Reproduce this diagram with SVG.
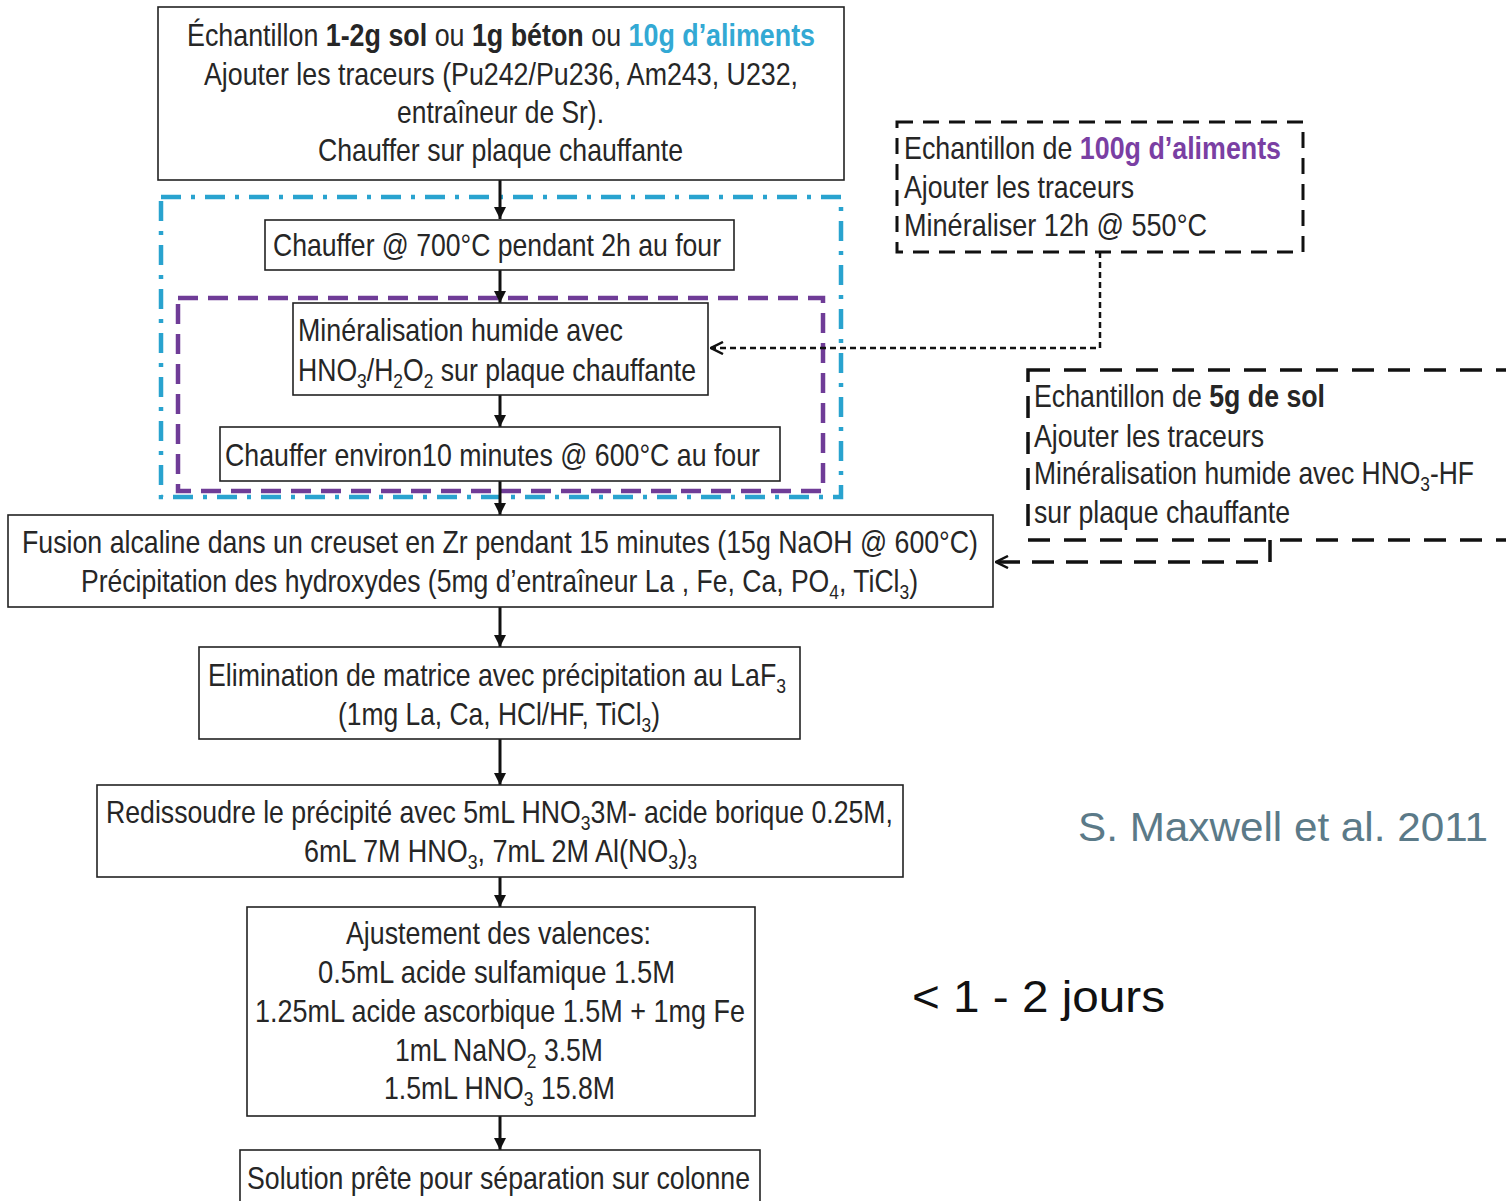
<svg xmlns="http://www.w3.org/2000/svg" width="1506" height="1201" viewBox="0 0 1506 1201">
  <style>
    .box { fill: #ffffff; stroke: #222222; stroke-width: 1.6; }
    .t { font-family: "Liberation Sans", Arial, sans-serif; font-size: 32px; fill: #262626; }
    .sub { font-size: 21px; baseline-shift: -7px; }
    .b { font-weight: bold; }
    .blue { fill: #33a9d4; font-weight: bold; }
    .purple { fill: #7a3fa3; font-weight: bold; }
    .flow { stroke: #111111; stroke-width: 3; fill: none; }
    .feed1 { stroke: #111111; stroke-width: 2.5; fill: none; stroke-dasharray: 6 4; }
    .feed2 { stroke: #111111; stroke-width: 3.5; fill: none; stroke-dasharray: 22 12; }
    .frame1 { fill: none; stroke: #111111; stroke-width: 3; stroke-dasharray: 16 10; }
    .frame2 { fill: none; stroke: #111111; stroke-width: 3.5; stroke-dasharray: 22 14; }
    .grpBlue { fill: none; stroke: #29a3cf; stroke-width: 4.5; stroke-dasharray: 20 10 4 10; }
    .grpPurple { fill: none; stroke: #6f3c97; stroke-width: 4.5; stroke-dasharray: 20 10; }
  </style>
  <defs>
    <marker id="solid" viewBox="0 0 12 12" refX="12" refY="6" markerWidth="12" markerHeight="12" markerUnits="userSpaceOnUse" orient="auto">
      <path d="M0,0 L12,6 L0,12 z" fill="#111111"/>
    </marker>
    <marker id="chev" viewBox="0 0 14 14" refX="13" refY="7" markerWidth="14" markerHeight="14" markerUnits="userSpaceOnUse" orient="auto">
      <path d="M1,1 L13,7 L1,13" fill="none" stroke="#111111" stroke-width="2.5"/>
    </marker>
  </defs>

  <rect width="1506" height="1201" fill="#ffffff"/>

  <!-- grouping frames -->
  <rect class="grpBlue" x="161" y="197" width="680" height="300"/>
  <rect class="grpPurple" x="178" y="298" width="645" height="193"/>

  <!-- connectors -->
  <g id="connectors">
    <line class="flow" x1="500" y1="180" x2="500" y2="219" marker-end="url(#solid)"/>
    <line class="flow" x1="500" y1="270" x2="500" y2="303" marker-end="url(#solid)"/>
    <line class="flow" x1="500" y1="395" x2="500" y2="427" marker-end="url(#solid)"/>
    <line class="flow" x1="500" y1="481" x2="500" y2="515" marker-end="url(#solid)"/>
    <line class="flow" x1="500" y1="607" x2="500" y2="647" marker-end="url(#solid)"/>
    <line class="flow" x1="500" y1="739" x2="500" y2="785" marker-end="url(#solid)"/>
    <line class="flow" x1="500" y1="877" x2="500" y2="907" marker-end="url(#solid)"/>
    <line class="flow" x1="500" y1="1116" x2="500" y2="1150" marker-end="url(#solid)"/>
    <path class="feed1" d="M1100,252 V348 H711" marker-end="url(#chev)"/>
    <path class="feed2" d="M1270,540 V562 H996" marker-end="url(#chev)"/>
  </g>

  <!-- sample preparation -->
  <g id="echantillon">
    <rect class="box" x="158" y="7" width="686" height="173"/>
    <text class="t" x="187" y="46" textLength="628" lengthAdjust="spacingAndGlyphs">Échantillon <tspan class="b">1-2g sol</tspan> ou <tspan class="b">1g béton</tspan> ou <tspan class="blue">10g d’aliments</tspan></text>
    <text class="t" x="204" y="85" textLength="594" lengthAdjust="spacingAndGlyphs">Ajouter les traceurs (Pu242/Pu236, Am243, U232,</text>
    <text class="t" x="397" y="123" textLength="207" lengthAdjust="spacingAndGlyphs">entraîneur de Sr).</text>
    <text class="t" x="318" y="161" textLength="365" lengthAdjust="spacingAndGlyphs">Chauffer sur plaque chauffante</text>
  </g>

  <g id="four700">
    <rect class="box" x="265" y="220" width="469" height="50"/>
    <text class="t" x="273" y="256" textLength="448" lengthAdjust="spacingAndGlyphs">Chauffer @ 700°C pendant 2h au four</text>
  </g>

  <g id="mineralisation">
    <rect class="box" x="293" y="303" width="415" height="92"/>
    <text class="t" x="298" y="341" textLength="325" lengthAdjust="spacingAndGlyphs">Minéralisation humide avec</text>
    <text class="t" x="298" y="381" textLength="398" lengthAdjust="spacingAndGlyphs">HNO<tspan class="sub">3</tspan>/H<tspan class="sub">2</tspan>O<tspan class="sub">2</tspan> sur plaque chauffante</text>
  </g>

  <g id="four600">
    <rect class="box" x="220" y="427" width="560" height="54"/>
    <text class="t" x="225" y="466" textLength="535" lengthAdjust="spacingAndGlyphs">Chauffer environ10 minutes @ 600°C au four</text>
  </g>

  <g id="fusion">
    <rect class="box" x="8" y="515" width="985" height="92"/>
    <text class="t" x="22" y="553" textLength="956" lengthAdjust="spacingAndGlyphs">Fusion alcaline dans un creuset en Zr pendant 15 minutes (15g NaOH @ 600°C)</text>
    <text class="t" x="81" y="592" textLength="837" lengthAdjust="spacingAndGlyphs">Précipitation des hydroxydes (5mg d’entraîneur La , Fe, Ca, PO<tspan class="sub">4</tspan>, TiCl<tspan class="sub">3</tspan>)</text>
  </g>

  <g id="laf3">
    <rect class="box" x="199" y="647" width="601" height="92"/>
    <text class="t" x="208" y="686" textLength="578" lengthAdjust="spacingAndGlyphs">Elimination de matrice avec précipitation au LaF<tspan class="sub">3</tspan></text>
    <text class="t" x="338" y="725" textLength="322" lengthAdjust="spacingAndGlyphs">(1mg La, Ca, HCl/HF, TiCl<tspan class="sub">3</tspan>)</text>
  </g>

  <g id="redissoudre">
    <rect class="box" x="97" y="785" width="806" height="92"/>
    <text class="t" x="106" y="823" textLength="787" lengthAdjust="spacingAndGlyphs">Redissoudre le précipité avec 5mL HNO<tspan class="sub">3</tspan>3M- acide borique 0.25M,</text>
    <text class="t" x="304" y="862" textLength="393" lengthAdjust="spacingAndGlyphs">6mL 7M HNO<tspan class="sub">3</tspan>,   7mL 2M Al(NO<tspan class="sub">3</tspan>)<tspan class="sub">3</tspan></text>
  </g>

  <g id="valences">
    <rect class="box" x="247" y="907" width="508" height="209"/>
    <text class="t" x="346" y="944" textLength="305" lengthAdjust="spacingAndGlyphs">Ajustement des valences:</text>
    <text class="t" x="318" y="983" textLength="357" lengthAdjust="spacingAndGlyphs">0.5mL  acide sulfamique 1.5M</text>
    <text class="t" x="255" y="1022" textLength="490" lengthAdjust="spacingAndGlyphs">1.25mL  acide ascorbique 1.5M + 1mg Fe</text>
    <text class="t" x="395" y="1061" textLength="208" lengthAdjust="spacingAndGlyphs">1mL NaNO<tspan class="sub">2</tspan> 3.5M</text>
    <text class="t" x="384" y="1099" textLength="231" lengthAdjust="spacingAndGlyphs">1.5mL HNO<tspan class="sub">3</tspan> 15.8M</text>
  </g>

  <g id="solution">
    <rect class="box" x="240" y="1150" width="520" height="60"/>
    <text class="t" x="247" y="1189" textLength="503" lengthAdjust="spacingAndGlyphs">Solution prête pour séparation sur colonne</text>
  </g>

  <!-- alternative sample routes -->
  <g id="aliments100g">
    <rect class="frame1" x="897" y="122" width="406" height="130"/>
    <text class="t" x="904" y="159" textLength="377" lengthAdjust="spacingAndGlyphs">Echantillon de <tspan class="purple">100g d’aliments</tspan></text>
    <text class="t" x="904" y="198" textLength="230" lengthAdjust="spacingAndGlyphs">Ajouter les traceurs</text>
    <text class="t" x="904" y="236" textLength="303" lengthAdjust="spacingAndGlyphs">Minéraliser 12h @ 550°C</text>
  </g>

  <g id="sol5g">
    <rect class="frame2" x="1028" y="370" width="520" height="170"/>
    <text class="t" x="1034" y="407" textLength="291" lengthAdjust="spacingAndGlyphs">Echantillon de <tspan class="b">5g de sol</tspan></text>
    <text class="t" x="1034" y="447" textLength="230" lengthAdjust="spacingAndGlyphs">Ajouter les traceurs</text>
    <text class="t" x="1034" y="484" textLength="440" lengthAdjust="spacingAndGlyphs">Minéralisation humide avec HNO<tspan class="sub">3</tspan>-HF</text>
    <text class="t" x="1034" y="523" textLength="256" lengthAdjust="spacingAndGlyphs">sur plaque chauffante</text>
  </g>

  <!-- notes -->
  <text x="1078" y="841" font-family="Liberation Sans, Arial, sans-serif" font-size="40" fill="#5b7a88" textLength="410" lengthAdjust="spacingAndGlyphs">S. Maxwell et al. 2011</text>
  <text x="912" y="1012" font-family="Liberation Sans, Arial, sans-serif" font-size="44" fill="#111111" textLength="253" lengthAdjust="spacingAndGlyphs">&lt; 1 - 2 jours</text>
</svg>
